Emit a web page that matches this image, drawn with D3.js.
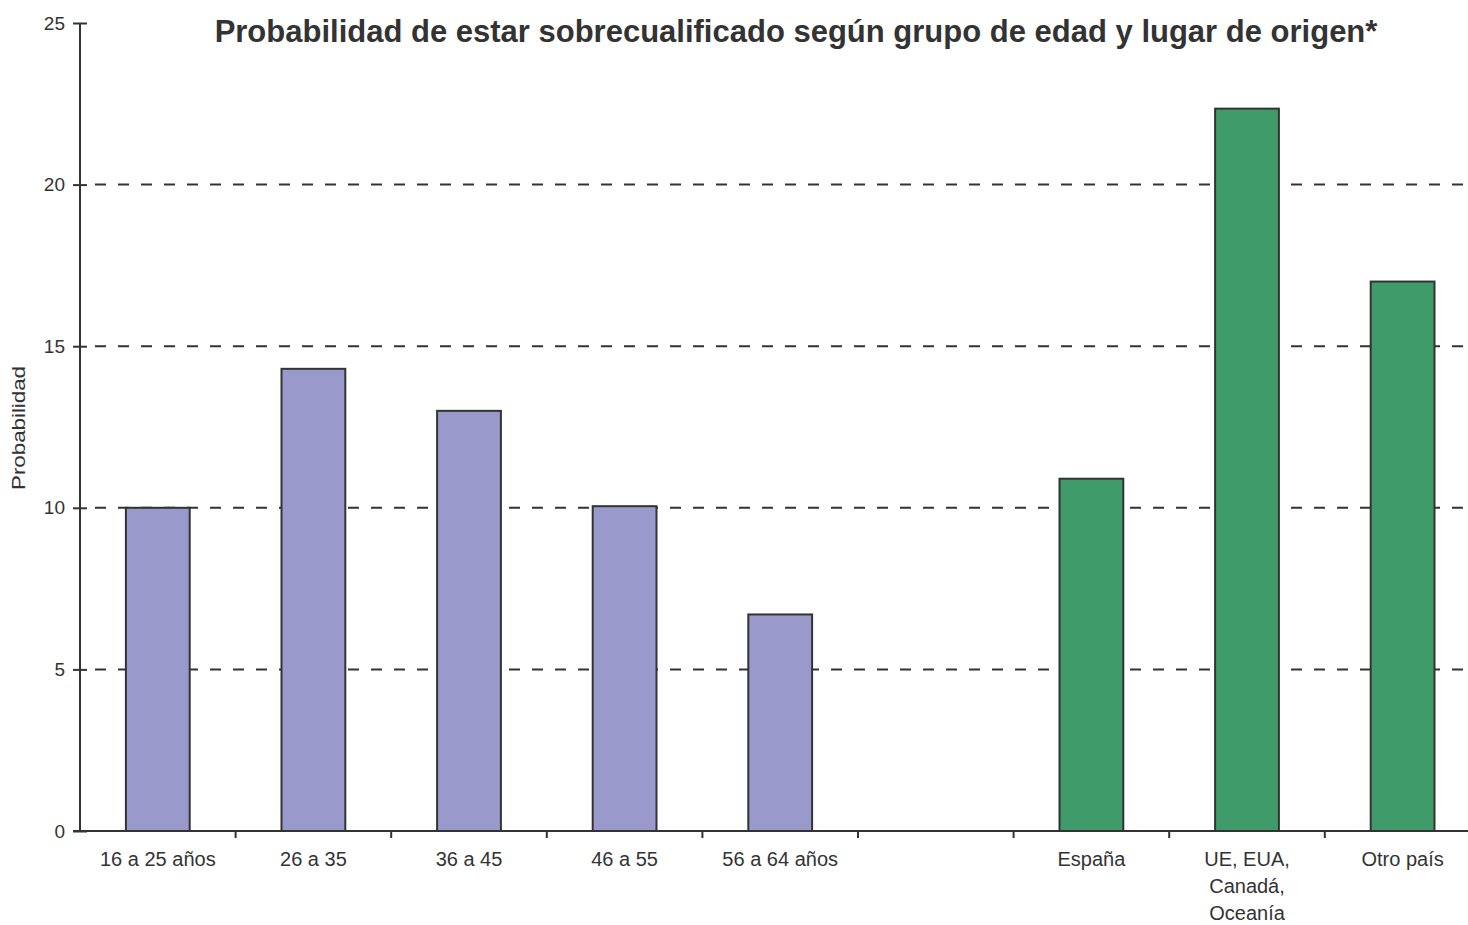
<!DOCTYPE html>

<head>
  <meta charset="utf-8">
  <title>Sobrecualificación</title>
  <script src="https://d3js.org/d3.v7.min.js"></script>
</head>

<body style="margin:0;background:#fff">
  <style>
  text { fill: #333; }
  .tick-label { font-family: "Liberation Sans Narrow", "Arial Narrow", "Liberation Sans", sans-serif; font-size: 20px; }
  </style>
  <script>
    var ageGroups = ['16 a 25 años', '26 a 35', '36 a 45', '46 a 55', '56 a 64 años'];
    var ageValues = [10.0, 14.3, 13.0, 10.05, 6.7];
    var origins = ['España', 'UE, EUA, Canadá, Oceanía', 'Otro país'];
    var originValues = [10.9, 22.35, 17.0];
    var originLines = {'UE, EUA, Canadá, Oceanía': ['UE, EUA,', 'Canadá,', 'Oceanía']};
    var yTicks = [0, 5, 10, 15, 20, 25];

    var width = 1468;
    var height = 925;
    var left = 80;
    var plotTop = 23;
    var bottom = 831;

    // one empty slot between the two groups
    var categories = ageGroups.concat([' ']).concat(origins);
    var bars = ageGroups.map(function(c, i) { return {cat: c, value: ageValues[i], color: '#9999cc'}; })
      .concat(origins.map(function(c, i) { return {cat: c, value: originValues[i], color: '#3f9b69'}; }));

    var svg = d3.select('body').append('svg').attr('width', width).attr('height', height)
      .style('display', 'block');

    var xscale = d3.scaleBand()
      .domain(categories)
      .range([left, left + 9 * 155.6])
      .paddingInner(0.59)
      .paddingOuter(0.295);

    var yscale = d3.scaleLinear()
      .domain([0, 25])
      .range([bottom, plotTop]);

    // dashed gridlines
    svg.selectAll('line.grid')
      .data(yTicks.filter(function(d) { return d > 0 && d < 25; }))
      .enter()
      .append('line')
      .attr('class', 'grid')
      .attr('x1', left + 8)
      .attr('x2', width)
      .attr('y1', function(d) { return yscale(d); })
      .attr('y2', function(d) { return yscale(d); })
      .attr('stroke', '#333')
      .attr('stroke-width', 2)
      .attr('stroke-dasharray', '11,12')
      .attr('stroke-dashoffset', -7);

    svg.selectAll('rect')
      .data(bars)
      .enter()
      .append('rect')
      .attr('x', function(d) { return xscale(d.cat); })
      .attr('y', function(d) { return yscale(d.value); })
      .attr('width', xscale.bandwidth())
      .attr('height', function(d) { return bottom - yscale(d.value); })
      .attr('fill', function(d) { return d.color; })
      .attr('stroke', '#333')
      .attr('stroke-width', 2);

    // y axis
    var axisy = d3.axisLeft(yscale).tickValues(yTicks).tickSize(7).tickPadding(8);
    var gy = svg.append('g')
      .attr('transform', 'translate(' + left + ',0)')
      .call(axisy);
    gy.select('.domain').attr('stroke', '#333').attr('stroke-width', 2).attr('d', 'M0,' + plotTop + 'V' + bottom);
    gy.selectAll('.tick line').attr('stroke', '#333').attr('stroke-width', 2).attr('x2', 7).attr('x1', -7);
    gy.selectAll('.tick text').attr('class', 'tick-label').attr('fill', '#333').style('font-size', '19px');

    // x axis
    var axisx = d3.axisBottom(xscale).tickSize(0).tickPadding(21);
    var gx = svg.append('g')
      .attr('transform', 'translate(0,' + bottom + ')')
      .call(axisx);
    gx.select('.domain').attr('stroke', '#333').attr('stroke-width', 2).attr('d', 'M' + (left - 7) + ',0H' + width);
    gx.selectAll('.tick text')
      .attr('class', 'tick-label')
      .attr('fill', '#333')
      .each(function(d) {
        var lines = originLines[d];
        if (!lines) return;
        var t = d3.select(this).text(null);
        lines.forEach(function(l, i) {
          t.append('tspan').attr('x', 0).attr('dy', i === 0 ? '0.71em' : 27).text(l);
        });
      });

    // boundary tick marks between categories
    var step = xscale.step();
    gx.selectAll('line.sep')
      .data(d3.range(1, 10))
      .enter()
      .append('line')
      .attr('class', 'sep')
      .attr('x1', function(i) { return left + i * step; })
      .attr('x2', function(i) { return left + i * step; })
      .attr('y1', 0)
      .attr('y2', 7)
      .attr('stroke', '#333')
      .attr('stroke-width', 2);

    svg.append('text')
      .attr('x', 796)
      .attr('y', 42)
      .attr('text-anchor', 'middle')
      .style('font-family', '"Liberation Sans", Arial, sans-serif')
      .style('font-weight', 'bold')
      .style('font-size', '31px')
      .text('Probabilidad de estar sobrecualificado según grupo de edad y lugar de origen*');

    svg.append('text')
      .attr('transform', 'translate(25,428) rotate(-90)')
      .attr('text-anchor', 'middle')
      .attr('textLength', 124)
      .attr('lengthAdjust', 'spacingAndGlyphs')
      .style('font-family', '"Liberation Sans", Arial, sans-serif')
      .style('font-size', '19px')
      .text('Probabilidad');
  </script>
</body>
